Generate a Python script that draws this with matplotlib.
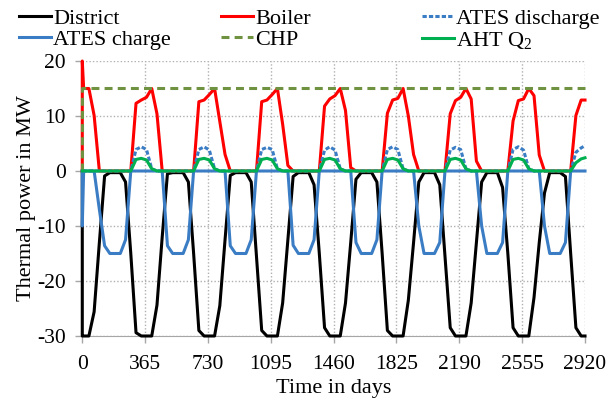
import numpy as np
import matplotlib
matplotlib.use("Agg")
import matplotlib.pyplot as plt

plt.rcParams['font.family'] = ['Liberation Serif', 'DejaVu Serif']
plt.rcParams['mathtext.fontset'] = 'custom'
plt.rcParams['mathtext.rm'] = 'Liberation Serif'
plt.rcParams['mathtext.default'] = 'rm'
plt.rcParams['axes.unicode_minus'] = False

# monthly simulation output, 8 years, one row per year (Jan..Dec)
n_months = 96
month_days = 8 + np.arange(n_months) * 365 / 12
init_days = [0, 0]      # initialisation step at t = 0
end_day = 2920

district = [
    [-30, -30, -25.6, -13, -0.9, -0.3, -0.3, -0.3, -2, -15, -29.4, -30],
    [-30, -30, -24.4, -12, -0.5, -0.3, -0.3, -0.3, -2, -15, -29, -30],
    [-30, -30, -24.5, -12.5, -0.8, -0.3, -0.3, -0.3, -2, -15.5, -29, -30],
    [-30, -30, -24, -12.5, -1, -0.3, -0.3, -0.3, -2.5, -15, -28.5, -30],
    [-30, -30, -24, -13, -1.5, -0.3, -0.3, -0.3, -2, -15, -29, -30],
    [-30, -30, -23.5, -13, -2, -0.3, -0.3, -0.3, -2.5, -15.5, -28.5, -30],
    [-30, -30, -24, -13, -2, -0.3, -0.3, -0.3, -3, -15, -28.5, -30],
    [-30, -30, -23, -13, -4, -0.3, -0.3, -0.3, -1, -15, -28.5, -30],
]
boiler = [
    [15, 15, 10.1, 0, 0, 0, 0, 0, 0, 0, 12.3, 12.9],
    [13.4, 15, 10.4, 0, 0, 0, 0, 0, 0, 0, 12.6, 12.9],
    [13.9, 15, 9, 3, 0, 0, 0, 0, 0, 0, 12.6, 12.9],
    [13.9, 15, 8.5, 1, 0, 0, 0, 0, 0, 0, 11.8, 13.1],
    [13.7, 15, 11, 0.6, 0, 0, 0, 0, 0, 0, 10.5, 12.9],
    [13.2, 15, 10, 3, 0, 0, 0, 0, 0, 0, 10.4, 12.8],
    [13.4, 15, 13.1, 1.8, 0, 0, 0, 0, 0, 0, 9.1, 12.8],
    [13.1, 15, 13.7, 2.9, 0, 0, 0, 0, 0, 0, 10.1, 12.9],
]
ates_discharge = [
    [0, 0, 0, 0, 0, 0, 0, 0, 0, 0, 3.9, 4.4],
    [3.9, 0.4, 0, 0, 0, 0, 0, 0, 0, 0, 3.9, 4.4],
    [3.8, 0.4, 0, 0, 0, 0, 0, 0, 0, 0, 3.9, 4.3],
    [3.9, 0.4, 0, 0, 0, 0, 0, 0, 0, 0, 3.8, 4.4],
    [3.8, 0.4, 0, 0, 0, 0, 0, 0, 0, 0, 3.9, 4.4],
    [3.9, 0.4, 0, 0, 0, 0, 0, 0, 0, 0, 3.8, 4.3],
    [3.9, 0.4, 0, 0, 0, 0, 0, 0, 0, 0, 3.9, 4.4],
    [3.8, 0.4, 0, 0, 0, 0, 0, 0, 0, 0, 3.4, 4.2],
]
ates_charge = [
    [0, 0, 0, -7, -13.6, -15, -15, -15, -12.5, 0, 0, 0],
    [0, 0, 0, 0, -13.6, -15, -15, -15, -12.5, 0, 0, 0],
    [0, 0, 0, 0, -13.6, -15, -15, -15, -12.5, 0, 0, 0],
    [0, 0, 0, 0, -13.5, -15, -15, -15, -12.5, 0, 0, 0],
    [0, 0, 0, 0, -13, -15, -15, -15, -12.5, 0, 0, 0],
    [0, 0, 0, 0, -10, -15, -15, -15, -13, 0, 0, 0],
    [0, 0, 0, 0, -10, -15, -15, -15, -13, 0, 0, 0],
    [0, 0, 0, 0, -10, -15, -15, -15, -13, 0, 0, 0],
]
chp = [[15] * 12 for _ in range(8)]
aht_q2 = [
    [0, 0, 0, 0, 0, 0, 0, 0, 0, 0, 2.1, 2.3],
    [2.0, 0.4, 0, 0, 0, 0, 0, 0, 0, 0, 2.1, 2.3],
    [2.0, 0.4, 0, 0, 0, 0, 0, 0, 0, 0, 2.1, 2.3],
    [2.0, 0.4, 0, 0, 0, 0, 0, 0, 0, 0, 2.1, 2.3],
    [2.0, 0.4, 0, 0, 0, 0, 0, 0, 0, 0, 2.1, 2.3],
    [2.0, 0.4, 0, 0, 0, 0, 0, 0, 0, 0, 2.1, 2.3],
    [2.0, 0.4, 0, 0, 0, 0, 0, 0, 0, 0, 2.1, 2.3],
    [2.0, 0.4, 0, 0, 0, 0, 0, 0, 0, 0, 1.5, 2.2],
]
# values at t = 0 (two init steps) and at the final day
init_vals = {'district': [0, -30], 'boiler': [0, 20], 'dis': [0, 0],
             'chg': [0, -10], 'chp': [0, 15], 'aht': [0, 0]}
end_vals = {'district': -30, 'boiler': 12.9, 'dis': 4.6,
            'chg': 0, 'chp': 15, 'aht': 2.4}

xticks = [0, 365, 730, 1095, 1460, 1825, 2190, 2555, 2920]
yticks = [-30, -20, -10, 0, 10, 20]

days = np.concatenate([init_days, month_days, [end_day]])


def series(key, yearly):
    return np.concatenate([init_vals[key], np.ravel(yearly), [end_vals[key]]])


fig = plt.figure(figsize=(6.09, 4.08), dpi=100)
ax = fig.add_axes([0.1351, 0.1765, 0.8255, 0.674])

lw = 2.2
kw = dict(lw=lw, zorder=3, clip_on=False)
h_dist, = ax.plot(days, series('district', district), color='black', **kw)
h_boil, = ax.plot(days, series('boiler', boiler), color='#ff0000', **kw)
h_dis, = ax.plot(days, series('dis', ates_discharge), color='#3b7dc4',
                 dashes=(1.4, 0.7), **kw)
h_chg, = ax.plot(days, series('chg', ates_charge), color='#3b7dc4', **kw)
h_chp, = ax.plot(days, series('chp', chp), color='#6f9240',
                 dashes=(2.6, 1.7), **kw)
h_aht, = ax.plot(days, series('aht', aht_q2), color='#00b050', **kw)

ax.set_xlim(0, 2920)
ax.set_ylim(-30, 20)
ax.set_xticks(xticks)
ax.set_yticks(yticks)
ax.tick_params(labelsize=15.5, color='#a6a6a6', length=5, width=1)
ax.tick_params(axis='y', pad=7)
ax.tick_params(axis='x', pad=9)
ax.grid(True, color='#b0b0b0', linestyle=(0, (1, 1.5)), linewidth=1)
for side in ['top', 'right']:
    ax.spines[side].set_visible(False)
for side in ['left', 'bottom']:
    ax.spines[side].set_color('#a6a6a6')

ax.set_xlabel('Time in days', fontsize=16)
ax.set_ylabel('Thermal power in MW', fontsize=16)
ax.xaxis.set_label_coords(0.5, -0.155)
ax.yaxis.set_label_coords(-0.092, 0.5)

leg_kw = dict(loc='upper left', frameon=False, borderpad=0, borderaxespad=0,
              fontsize=16, handlelength=1.45, handletextpad=0.1,
              labelspacing=0.05)
fig.legend([h_dist, h_chg], ['District', 'ATES charge'],
           bbox_to_anchor=(19 / 609, 1 - 8 / 408), **leg_kw)
fig.legend([h_boil, h_chp], ['Boiler', 'CHP'],
           bbox_to_anchor=(221 / 609, 1 - 8 / 408), **leg_kw)
fig.legend([h_dis, h_aht], ['ATES discharge', 'AHT Q$_2$'],
           bbox_to_anchor=(422 / 609, 1 - 8 / 408), **leg_kw)

fig.savefig('out.png', dpi=100)
